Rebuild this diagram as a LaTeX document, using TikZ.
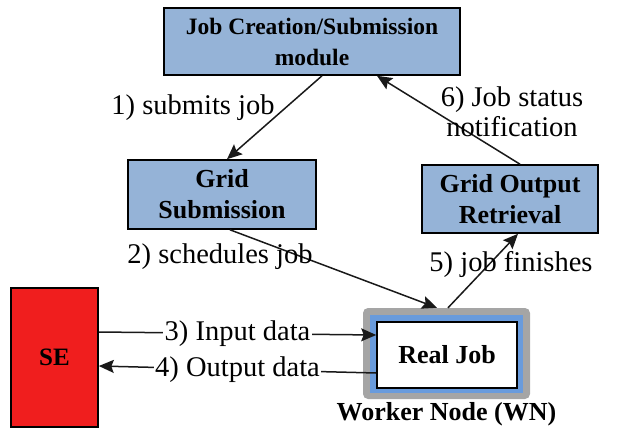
\documentclass[tikz,border=0pt]{standalone}
\usepackage{fontspec}
\setmainfont{Liberation Serif}
\usetikzlibrary{arrows.meta}
\definecolor{boxblue}{RGB}{149,179,215}
\definecolor{sered}{RGB}{240,30,30}
\definecolor{wngray}{RGB}{165,165,165}
\definecolor{wnblue}{RGB}{105,155,220}
\definecolor{linecol}{RGB}{25,25,25}
\begin{document}
\begin{tikzpicture}[x=1pt,y=-1pt,
  box/.style={draw=black, line width=1.6pt, fill=boxblue, align=center,
    font=\bfseries\fontsize{26}{31}\selectfont, inner sep=0pt},
  lbl/.style={font=\fontsize{28.5}{30}\selectfont, inner sep=0pt, align=center},
  conn/.style={draw=linecol, line width=1.5pt, -{Stealth[length=15pt,width=13pt,inset=2.5pt]}}]
\useasboundingbox (0,0) rectangle (618,431);
% boxes
\node[box, minimum width=296pt, minimum height=67pt,
  font=\bfseries\fontsize{23.5}{31}\selectfont] (top) at (312,41.5) {Job Creation/Submission\\module};
\node[box, minimum width=188pt, minimum height=69pt] (gs) at (222,194.5) {Grid\\Submission};
\node[box, minimum width=176pt, minimum height=68pt] (gor) at (510,199) {Grid Output\\Retrieval};
\node[draw=black, line width=1.6pt, fill=sered, minimum width=87pt, minimum height=139pt, inner sep=0pt,
  font=\bfseries\fontsize{25}{28}\selectfont] (se) at (54.5,357.5) {SE};
% worker node
\node[fill=wngray, rounded corners=5pt, minimum width=167pt, minimum height=91pt, inner sep=0pt] (wn) at (446.5,353.5) {};
\node[fill=wnblue, minimum width=153pt, minimum height=78pt, inner sep=0pt] (wnb) at (446.5,354) {};
\node[draw=black, line width=1.6pt, fill=white, minimum width=140pt, minimum height=66pt, inner sep=0pt,
  font=\bfseries\fontsize{26}{31}\selectfont] (rj) at (447,355) {Real Job};
\node[font=\bfseries\fontsize{26}{31}\selectfont, inner sep=0pt] (wnl) at (446.5,414) {Worker Node (WN)};
% connectors
\draw[conn] ([xshift=10pt]top.south) -- ([xshift=5pt]gs.north);
\draw[conn] ([xshift=10pt]gor.north) -- ([xshift=65pt]top.south);
\draw[conn] ([xshift=8pt]gs.south) -- ([xshift=-9.5pt]wn.north);
\draw[conn] ([xshift=1.5pt]wn.north) -- ([xshift=8pt]gor.south);
\draw[conn] ([yshift=25.5pt]se.east) -- node[lbl, fill=white, inner xsep=1.5pt] (l3) {3) Input data} ([yshift=20pt]rj.west);
\draw[conn] ([yshift=-18pt]rj.west) -- node[lbl, fill=white, inner xsep=1.5pt] (l4) {4) Output data} ([yshift=-8.5pt]se.east);
% labels
\node[lbl] (l1) at (193,108) {1) submits job};
\node[lbl] (l6) at (512,112) {6) Job status\\notification};
\node[lbl] (l2) at (220,257) {2) schedules job};
\node[lbl] (l5) at (511,264) {5) job finishes};
\end{tikzpicture}
\end{document}
